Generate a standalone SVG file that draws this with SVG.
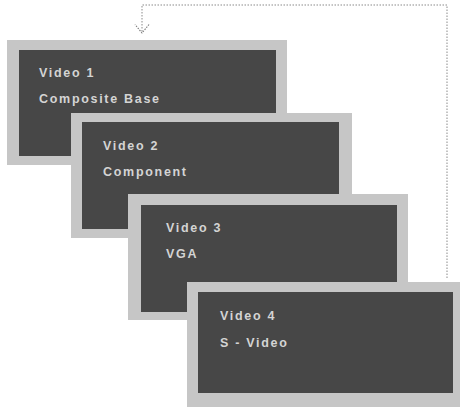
<svg xmlns="http://www.w3.org/2000/svg" width="464" height="408" viewBox="0 0 464 408">
<style>
.frame{fill:#c6c6c6;}
.panel{fill:#474747;}
.t{font-family:"Liberation Sans",Arial,sans-serif;font-weight:bold;font-size:12.5px;fill:#d4d4d4;letter-spacing:1.7px;}
.conn{fill:none;stroke:#8a8a8a;stroke-width:1;stroke-dasharray:1.5 1.5;}
</style>
<defs>
<marker id="arr" viewBox="0 0 10 16" refX="9.5" refY="8" markerWidth="10" markerHeight="16" markerUnits="userSpaceOnUse" orient="auto">
<path d="M1,1 L9.5,8 L1,15" fill="none" stroke="#7a7a7a" stroke-width="1.1" stroke-dasharray="1.5 1.2"/>
</marker>
</defs>
<rect width="464" height="408" fill="#ffffff"/>
<g id="connectors">
<path class="conn" d="M447,278 L447,5 L142,5 L142,33" marker-end="url(#arr)"/>
</g>
<g id="video1">
<rect class="frame" x="7" y="40" width="280" height="125"/>
<rect class="panel" x="19" y="50" width="257" height="106"/>
<text class="t" x="39" y="77">Video 1</text>
<text class="t" x="39" y="103">Composite Base</text>
</g>
<g id="video2">
<rect class="frame" x="71" y="113" width="281" height="125"/>
<rect class="panel" x="82" y="122" width="257" height="107"/>
<text class="t" x="103" y="150">Video 2</text>
<text class="t" x="103" y="176">Component</text>
</g>
<g id="video3">
<rect class="frame" x="128" y="194" width="280" height="126"/>
<rect class="panel" x="141" y="205" width="256" height="107"/>
<text class="t" x="166" y="232">Video 3</text>
<text class="t" x="166" y="258">VGA</text>
</g>
<g id="video4">
<rect class="frame" x="187" y="282" width="273" height="125"/>
<rect class="panel" x="198" y="292" width="255" height="101"/>
<text class="t" x="220" y="320">Video 4</text>
<text class="t" x="220" y="347">S - Video</text>
</g>
</svg>
